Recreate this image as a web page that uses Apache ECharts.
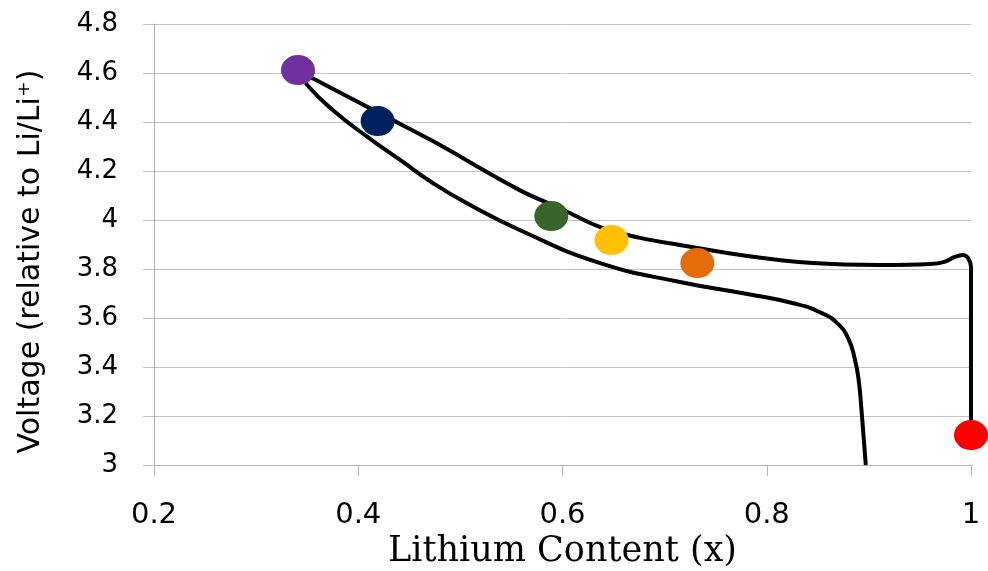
<!DOCTYPE html>
<html>
<head>
<meta charset="utf-8">
<title>Lithium Content vs Voltage</title>
<script src="https://cdn.jsdelivr.net/npm/echarts@6/dist/echarts.min.js"></script>
<style>
  html, body { margin: 0; padding: 0; background: #fff; }
  #chart { width: 988px; height: 571px; }
</style>
</head>
<body>
<div id="chart"></div>
<script>
  // upper branch: from top point down to x = 1
  var upperX = [0.341, 0.353, 0.424, 0.473, 0.558, 0.597, 0.637, 0.676, 0.715, 0.781, 0.845, 0.911, 0.960, 0.974, 0.984, 0.992, 0.997, 1.0, 1.0];
  var upperY = [4.612, 4.584, 4.429, 4.322, 4.122, 4.049, 3.971, 3.927, 3.898, 3.853, 3.824, 3.816, 3.820, 3.829, 3.849, 3.857, 3.845, 3.808, 3.122];

  // lower branch: from top point down to the bottom of the axis
  var lowerX = [0.341, 0.350, 0.375, 0.409, 0.441, 0.473, 0.506, 0.558, 0.637, 0.715, 0.781, 0.829, 0.855, 0.870, 0.880, 0.886, 0.890, 0.893, 0.897];
  var lowerY = [4.612, 4.551, 4.449, 4.339, 4.245, 4.151, 4.069, 3.959, 3.824, 3.747, 3.698, 3.657, 3.618, 3.575, 3.515, 3.437, 3.347, 3.212, 3.0];

  // coloured points
  var dotX = [0.341, 0.419, 0.589, 0.648, 0.732, 1.0];
  var dotY = [4.612, 4.404, 4.016, 3.918, 3.824, 3.122];
  var dotColors = ['#7030A0', '#002060', '#38662A', '#FFC000', '#E46C0A', '#FF0000'];

  function pairs(xs, ys) {
    var out = [];
    for (var i = 0; i < xs.length; i++) out.push([xs[i], ys[i]]);
    return out;
  }

  var chart = echarts.init(document.getElementById('chart'));

  var dots = [];
  for (var i = 0; i < dotX.length; i++) {
    dots.push({ value: [dotX[i], dotY[i]], itemStyle: { color: dotColors[i], opacity: 1 } });
  }

  chart.setOption({
    animation: false,
    grid: { left: 154, right: 17, top: 24, bottom: 106, outerBoundsMode: 'none' },
    xAxis: {
      type: 'value',
      min: 0.2,
      max: 1,
      interval: 0.2,
      name: 'Lithium Content (x)',
      nameLocation: 'middle',
      nameGap: 69,
      nameTextStyle: { fontFamily: 'DejaVu Serif', fontSize: 35, color: '#000' },
      axisLine: { show: true, lineStyle: { color: '#b4b4b4', width: 1 } },
      axisTick: { show: true, length: 11, lineStyle: { color: '#b4b4b4' } },
      axisLabel: {
        fontFamily: 'DejaVu Sans', fontSize: 29, color: '#000', margin: 36,
        formatter: function (v) { return String(+v.toFixed(1)); }
      },
      splitLine: { show: false }
    },
    yAxis: {
      type: 'value',
      min: 3,
      max: 4.8,
      interval: 0.2,
      name: 'Voltage (relative to Li/Li⁺)',
      nameLocation: 'middle',
      nameRotate: 90,
      nameGap: 108,
      nameTextStyle: { fontFamily: 'DejaVu Sans', fontSize: 30, color: '#000', padding: [0, 34, 0, 0] },
      axisLine: { show: true, lineStyle: { color: '#b4b4b4', width: 1 } },
      axisTick: { show: true, length: 11, lineStyle: { color: '#c4c4c4' } },
      axisLabel: {
        fontFamily: 'DejaVu Sans', fontSize: 26, color: '#000', margin: 36,
        formatter: function (v) { return String(+v.toFixed(1)); }
      },
      splitLine: { show: true, lineStyle: { color: '#c4c4c4', width: 1 } }
    },
    series: [
      {
        name: 'upper',
        type: 'line',
        data: pairs(upperX, upperY),
        smooth: 0.4,
        showSymbol: false,
        lineStyle: { color: '#000', width: 4 },
        z: 2
      },
      {
        name: 'lower',
        type: 'line',
        data: pairs(lowerX, lowerY),
        smooth: 0.5,
        showSymbol: false,
        lineStyle: { color: '#000', width: 4 },
        z: 2
      },
      {
        name: 'points',
        type: 'scatter',
        data: dots,
        symbol: 'circle',
        symbolSize: [34, 30],
        z: 3
      }
    ]
  });
</script>
</body>
</html>
